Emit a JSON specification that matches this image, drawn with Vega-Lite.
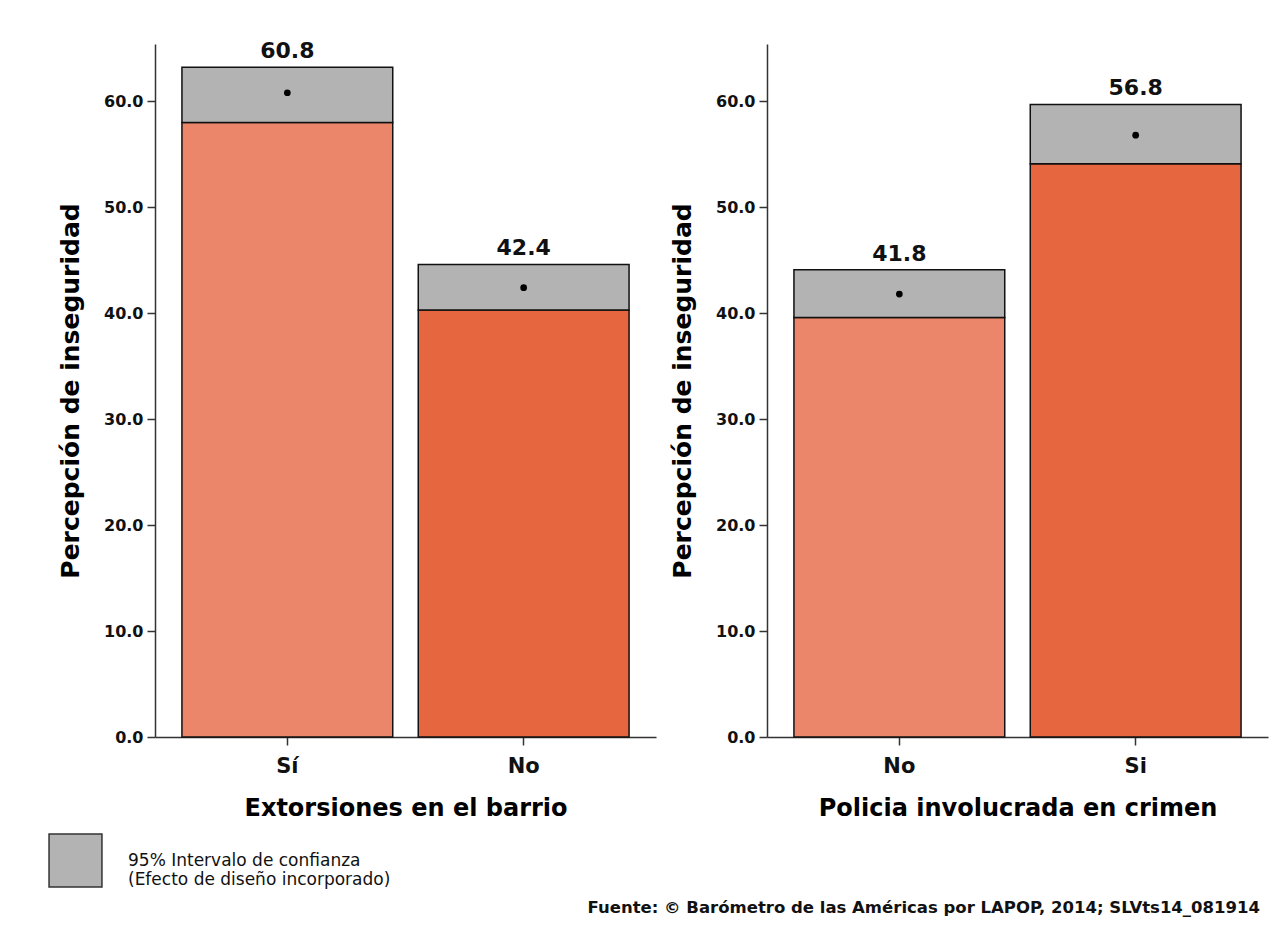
{
  "$schema": "https://vega.github.io/schema/vega-lite/v6.json",
  "padding": {"left": 48, "top": 40, "right": 5, "bottom": 5},
  "background": "white",
  "config": {
    "font": "DejaVu Sans",
    "view": {"stroke": null},
    "concat": {"spacing": 14},
    "axis": {
      "grid": false,
      "domainColor": "#333333",
      "tickColor": "#333333",
      "domainWidth": 1.5,
      "tickWidth": 1.5,
      "tickSize": 8,
      "labelColor": "#111111",
      "titleColor": "#000000",
      "labelFont": "DejaVu Sans",
      "titleFont": "DejaVu Sans"
    }
  },
  "datasets": {
    "bars": [
      {"panel": "Extorsiones en el barrio", "cat": "Sí", "mean": 60.8, "lo": 58.0, "hi": 63.2, "ci": "95% Intervalo de confianza|(Efecto de diseño incorporado)"},
      {"panel": "Extorsiones en el barrio", "cat": "No", "mean": 42.4, "lo": 40.3, "hi": 44.6, "ci": "95% Intervalo de confianza|(Efecto de diseño incorporado)"},
      {"panel": "Policia involucrada en crimen", "cat": "No", "mean": 41.8, "lo": 39.6, "hi": 44.1, "ci": "95% Intervalo de confianza|(Efecto de diseño incorporado)"},
      {"panel": "Policia involucrada en crimen", "cat": "Si", "mean": 56.8, "lo": 54.1, "hi": 59.7, "ci": "95% Intervalo de confianza|(Efecto de diseño incorporado)"}
    ]
  },
  "title": {
    "text": "Fuente: © Barómetro de las Américas por LAPOP, 2014; SLVts14_081914",
    "orient": "bottom",
    "anchor": "end",
    "font": "DejaVu Sans",
    "fontSize": 16.5,
    "fontWeight": "bold",
    "color": "#111111",
    "offset": 10,
    "dx": -8
  },
  "resolve": {"scale": {"color": "independent"}},
  "hconcat": [
    {
      "width": 501,
      "height": 693,
      "data": {"name": "bars"},
      "transform": [{"filter": "datum.panel === 'Extorsiones en el barrio'"}],
      "encoding": {
        "x": {
          "field": "cat",
          "type": "nominal",
          "sort": ["Sí", "No"],
          "scale": {"paddingInner": 0.108, "paddingOuter": 0.114},
          "axis": {
            "title": "Extorsiones en el barrio",
            "labelAngle": 0,
            "labelFontSize": 21,
            "labelFontWeight": "bold",
            "labelPadding": 10,
            "titleFontSize": 24,
            "titleFontWeight": "bold",
            "titlePadding": 20
          }
        }
      },
      "layer": [
        {
          "mark": {"type": "bar", "stroke": "#111111", "strokeWidth": 1.5},
          "encoding": {
            "y": {
              "field": "lo",
              "type": "quantitative",
              "scale": {"domain": [0, 65.4], "nice": false},
              "axis": {
                "title": "Percepción de inseguridad",
                "values": [0, 10, 20, 30, 40, 50, 60],
                "format": ".1f",
                "labelFontSize": 16,
                "labelFontWeight": "bold",
                "labelPadding": 4,
                "titleFontSize": 25,
                "titleFontWeight": "bold",
                "titlePadding": 20
              }
            },
            "color": {
              "field": "cat",
              "type": "nominal",
              "scale": {"domain": ["Sí", "No"], "range": ["#EB866A", "#E5663F"]},
              "legend": null
            }
          }
        },
        {
          "mark": {"type": "bar", "stroke": "#111111", "strokeWidth": 1.5},
          "encoding": {
            "y": {"field": "lo", "type": "quantitative"},
            "y2": {"field": "hi"},
            "fill": {
              "field": "ci",
              "type": "nominal",
              "scale": {"range": ["#B3B3B3"]},
              "legend": {
                "title": null,
                "orient": "none",
                "legendX": -107,
                "legendY": 789,
                "symbolType": "square",
                "symbolSize": 2800,
                "symbolStrokeColor": "#333333",
                "symbolStrokeWidth": 1.5,
                "labelExpr": "split(datum.label, '|')",
                "labelFont": "DejaVu Sans",
                "labelFontSize": 17,
                "labelColor": "#111111",
                "labelLimit": 500,
                "labelOffset": 25
              }
            }
          }
        },
        {
          "mark": {"type": "point", "filled": true, "color": "#000000", "size": 45, "opacity": 1},
          "encoding": {"y": {"field": "mean", "type": "quantitative"}}
        },
        {
          "mark": {"type": "text", "baseline": "bottom", "dy": -4, "fontSize": 22, "fontWeight": "bold", "font": "DejaVu Sans", "color": "#111111"},
          "encoding": {
            "y": {"field": "hi", "type": "quantitative"},
            "text": {"field": "mean", "type": "quantitative", "format": ".1f"}
          }
        }
      ]
    },
    {
      "width": 501,
      "height": 693,
      "data": {"name": "bars"},
      "transform": [{"filter": "datum.panel === 'Policia involucrada en crimen'"}],
      "encoding": {
        "x": {
          "field": "cat",
          "type": "nominal",
          "sort": ["No", "Si"],
          "scale": {"paddingInner": 0.108, "paddingOuter": 0.114},
          "axis": {
            "title": "Policia involucrada en crimen",
            "labelAngle": 0,
            "labelFontSize": 21,
            "labelFontWeight": "bold",
            "labelPadding": 10,
            "titleFontSize": 24,
            "titleFontWeight": "bold",
            "titlePadding": 20
          }
        }
      },
      "layer": [
        {
          "mark": {"type": "bar", "stroke": "#111111", "strokeWidth": 1.5},
          "encoding": {
            "y": {
              "field": "lo",
              "type": "quantitative",
              "scale": {"domain": [0, 65.4], "nice": false},
              "axis": {
                "title": "Percepción de inseguridad",
                "values": [0, 10, 20, 30, 40, 50, 60],
                "format": ".1f",
                "labelFontSize": 16,
                "labelFontWeight": "bold",
                "labelPadding": 4,
                "titleFontSize": 25,
                "titleFontWeight": "bold",
                "titlePadding": 20
              }
            },
            "color": {
              "field": "cat",
              "type": "nominal",
              "scale": {"domain": ["No", "Si"], "range": ["#EB866A", "#E5663F"]},
              "legend": null
            }
          }
        },
        {
          "mark": {"type": "bar", "stroke": "#111111", "strokeWidth": 1.5},
          "encoding": {
            "y": {"field": "lo", "type": "quantitative"},
            "y2": {"field": "hi"},
            "fill": {
              "field": "ci",
              "type": "nominal",
              "scale": {"range": ["#B3B3B3"]},
              "legend": null
            }
          }
        },
        {
          "mark": {"type": "point", "filled": true, "color": "#000000", "size": 45, "opacity": 1},
          "encoding": {"y": {"field": "mean", "type": "quantitative"}}
        },
        {
          "mark": {"type": "text", "baseline": "bottom", "dy": -4, "fontSize": 22, "fontWeight": "bold", "font": "DejaVu Sans", "color": "#111111"},
          "encoding": {
            "y": {"field": "hi", "type": "quantitative"},
            "text": {"field": "mean", "type": "quantitative", "format": ".1f"}
          }
        }
      ]
    }
  ]
}
